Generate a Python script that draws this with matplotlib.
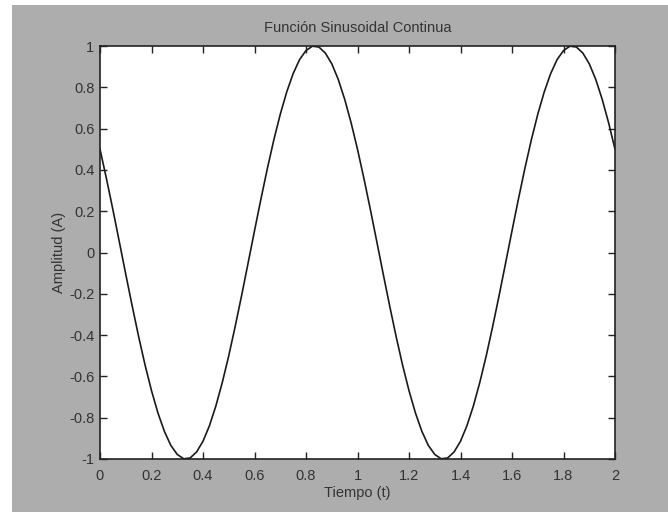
import numpy as np
import matplotlib
matplotlib.use('Agg')
import matplotlib.pyplot as plt
from matplotlib.patches import Rectangle
from matplotlib.ticker import FuncFormatter

#%% datos de la senal (t en s, A)

t = [0.000, 0.025, 0.050, 0.075, 0.100, 0.125, 0.150, 0.175, 0.200, 0.225,
     0.250, 0.275, 0.300, 0.325, 0.350, 0.375, 0.400, 0.425, 0.450, 0.475,
     0.500, 0.525, 0.550, 0.575, 0.600, 0.625, 0.650, 0.675, 0.700, 0.725,
     0.750, 0.775, 0.800, 0.825, 0.850, 0.875, 0.900, 0.925, 0.950, 0.975,
     1.000, 1.025, 1.050, 1.075, 1.100, 1.125, 1.150, 1.175, 1.200, 1.225,
     1.250, 1.275, 1.300, 1.325, 1.350, 1.375, 1.400, 1.425, 1.450, 1.475,
     1.500, 1.525, 1.550, 1.575, 1.600, 1.625, 1.650, 1.675, 1.700, 1.725,
     1.750, 1.775, 1.800, 1.825, 1.850, 1.875, 1.900, 1.925, 1.950, 1.975,
     2.000]

A = [0.500, 0.358, 0.208, 0.052, -0.105, -0.259, -0.407, -0.545, -0.669, -0.777,
     -0.866, -0.934, -0.978, -0.999, -0.995, -0.966, -0.914, -0.839, -0.743, -0.629,
     -0.500, -0.358, -0.208, -0.052, 0.105, 0.259, 0.407, 0.545, 0.669, 0.777,
     0.866, 0.934, 0.978, 0.999, 0.995, 0.966, 0.914, 0.839, 0.743, 0.629,
     0.500, 0.358, 0.208, 0.052, -0.105, -0.259, -0.407, -0.545, -0.669, -0.777,
     -0.866, -0.934, -0.978, -0.999, -0.995, -0.966, -0.914, -0.839, -0.743, -0.629,
     -0.500, -0.358, -0.208, -0.052, 0.105, 0.259, 0.407, 0.545, 0.669, 0.777,
     0.866, 0.934, 0.978, 0.999, 0.995, 0.966, 0.914, 0.839, 0.743, 0.629,
     0.500]

xticks = [0, 0.2, 0.4, 0.6, 0.8, 1, 1.2, 1.4, 1.6, 1.8, 2]
yticks = [-1, -0.8, -0.6, -0.4, -0.2, 0, 0.2, 0.4, 0.6, 0.8, 1]

#%% figura

plt.rcParams['font.family'] = ['Liberation Sans', 'DejaVu Sans']
plt.rcParams['axes.unicode_minus'] = False

txt = '#333333'
fig = plt.figure(figsize=(6.68, 5.12), dpi=100, facecolor='white')
fig.patches.append(Rectangle((12/668, 0), 1, 1 - 5/512, transform=fig.transFigure,
                             facecolor='#adadad', edgecolor='none', zorder=-1))

ax = fig.add_axes([100/668, 1 - 459/512, 515/668, 413/512])
ax.set_facecolor('white')
ax.plot(t, A, color='#1a1a1a', linewidth=1.2)

ax.set_xlim(0, 2)
ax.set_ylim(-1, 1)
ax.set_xticks(xticks)
ax.set_yticks(yticks)
fmt = FuncFormatter(lambda v, p: '%g' % v)
ax.xaxis.set_major_formatter(fmt)
ax.yaxis.set_major_formatter(fmt)
ax.tick_params(direction='in', length=5, width=1, color='#222222',
               top=True, right=True, labelsize=10.5, labelcolor=txt)
ax.tick_params(axis='x', pad=7)
ax.tick_params(axis='y', pad=4)
for s in ax.spines.values():
    s.set_color('#222222')
    s.set_linewidth(1.2)

ax.set_title('Función Sinusoidal Continua', fontsize=10.5, color=txt, pad=10)
ax.set_xlabel('Tiempo (t)', fontsize=10.5, color=txt, labelpad=2)
ax.set_ylabel('Amplitud (A)', fontsize=10.5, color=txt, labelpad=2)

fig.savefig('out.png', dpi=100, facecolor=fig.get_facecolor())
